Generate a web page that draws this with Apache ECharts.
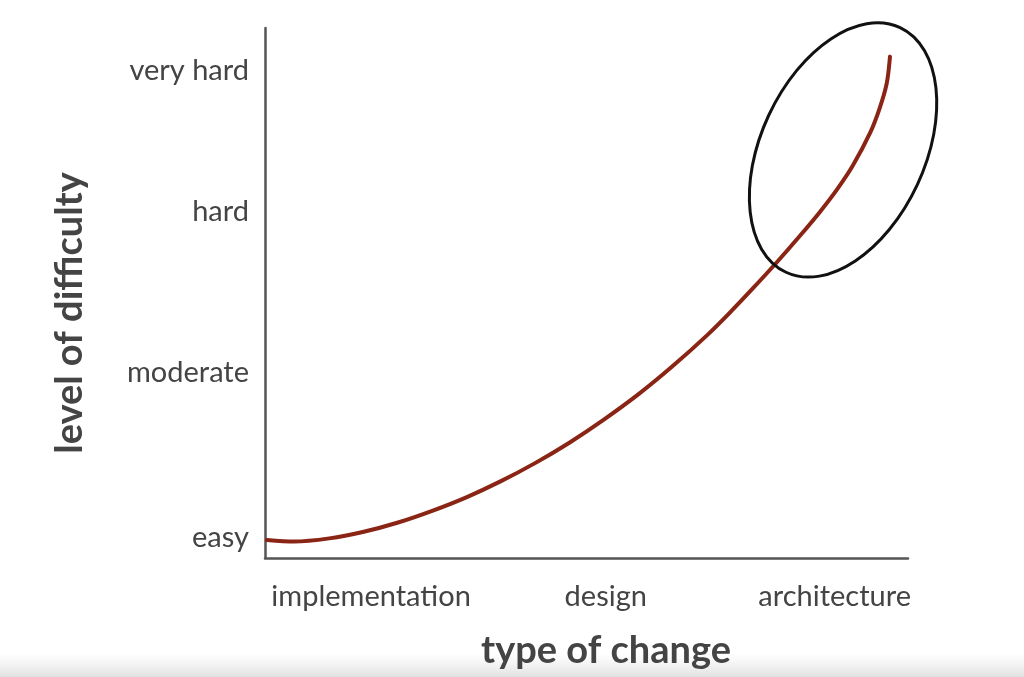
<!DOCTYPE html>
<html>
<head>
<meta charset="utf-8">
<script src="https://cdn.jsdelivr.net/npm/echarts@6/dist/echarts.min.js"></script>
<style>
html,body{margin:0;padding:0;background:#fff;}
#chart{width:1024px;height:677px;}
</style>
</head>
<body>
<div id="chart"></div>
<script>
// x categories (position on the "type of change" scale)
const xCategories = ['implementation', 'design', 'architecture'];
const xCategoryValues = [16.5, 53.0, 88.6];
// y levels (position on the "level of difficulty" scale)
const yLevels = ['easy', 'moderate', 'hard', 'very hard'];
const yLevelValues = [3.8, 34.9, 65.3, 91.9];
// curve
const curveX = [0.3, 4.5, 10.0, 15.2, 20.7, 26.0, 31.4, 36.7, 42.0, 47.4, 52.7, 58.2, 63.5, 68.9, 72.3, 75.9, 79.6, 83.2, 86.3, 89.0, 91.4, 94.1, 95.6, 96.7, 97.2];
const curveY = [3.4, 3.1, 3.7, 4.9, 6.7, 8.9, 11.5, 14.5, 17.9, 21.8, 26.1, 31.0, 36.3, 42.2, 46.3, 50.9, 55.8, 60.8, 65.3, 69.6, 74.0, 80.2, 84.9, 89.6, 94.6];
// highlighted region centre (data coords)
const highlightCenter = [89.9, 77.0];

const FONT = 'Lato, "Open Sans", sans-serif';
const TEXT = '#444444';

const chart = echarts.init(document.getElementById('chart'), null, {renderer: 'canvas'});

const xName = {}; xCategoryValues.forEach((v, i) => xName[v] = xCategories[i]);
const yName = {}; yLevelValues.forEach((v, i) => yName[v] = yLevels[i]);

const option = {
  backgroundColor: '#ffffff',
  animation: false,
  grid: {left: 265, right: 116, top: 28, bottom: 119, containLabel: false},
  xAxis: {
    type: 'value', min: 0, max: 100,
    name: 'type of change', nameLocation: 'middle', nameGap: 74,
    nameTextStyle: {fontFamily: FONT, fontSize: 38, fontWeight: 'bold', color: TEXT, padding: [0, 0, 0, 39]},
    axisLine: {show: true, lineStyle: {color: '#555', width: 2.5}},
    axisTick: {show: false},
    splitLine: {show: false},
    axisLabel: {
      customValues: xCategoryValues,
      formatter: v => xName[v] || '',
      fontFamily: FONT, fontSize: 29, color: TEXT, margin: 24
    }
  },
  yAxis: {
    type: 'value', min: 0, max: 100,
    name: 'level of difficulty', nameLocation: 'middle', nameGap: 176, nameRotate: 90,
    nameTextStyle: {fontFamily: FONT, fontSize: 38, fontWeight: 'bold', color: TEXT, padding: [0, 40, 0, 0]},
    axisLine: {show: true, lineStyle: {color: '#555', width: 2.5}},
    axisTick: {show: false},
    splitLine: {show: false},
    axisLabel: {
      customValues: yLevelValues,
      formatter: v => yName[v] || '',
      fontFamily: FONT, fontSize: 29, color: TEXT, margin: 16
    }
  },
  series: [{
    type: 'line',
    data: curveX.map((x, i) => [x, curveY[i]]),
    smooth: 0.3,
    showSymbol: false,
    lineStyle: {color: '#8a2414', width: 4, cap: 'round'}
  }]
};
chart.setOption(option);

function drawAnnotations() {
  const c = chart.convertToPixel({gridIndex: 0}, highlightCenter);
  chart.setOption({
    graphic: [
      {
        type: 'ellipse',
        x: c[0], y: c[1],
        rotation: -25 * Math.PI / 180,
        shape: {cx: 0, cy: 0, rx: 82, ry: 135},
        style: {fill: 'none', stroke: '#111', lineWidth: 3},
        z: 10
      },
      {
        type: 'rect', left: 0, bottom: 0, z: -1, silent: true,
        shape: {width: 1024, height: 24},
        style: {
          fill: new echarts.graphic.LinearGradient(0, 0, 0, 1, [
            {offset: 0, color: 'rgba(235,235,235,0)'},
            {offset: 1, color: 'rgba(225,225,225,1)'}
          ])
        }
      }
    ]
  });
}
drawAnnotations();
</script>
</body>
</html>
